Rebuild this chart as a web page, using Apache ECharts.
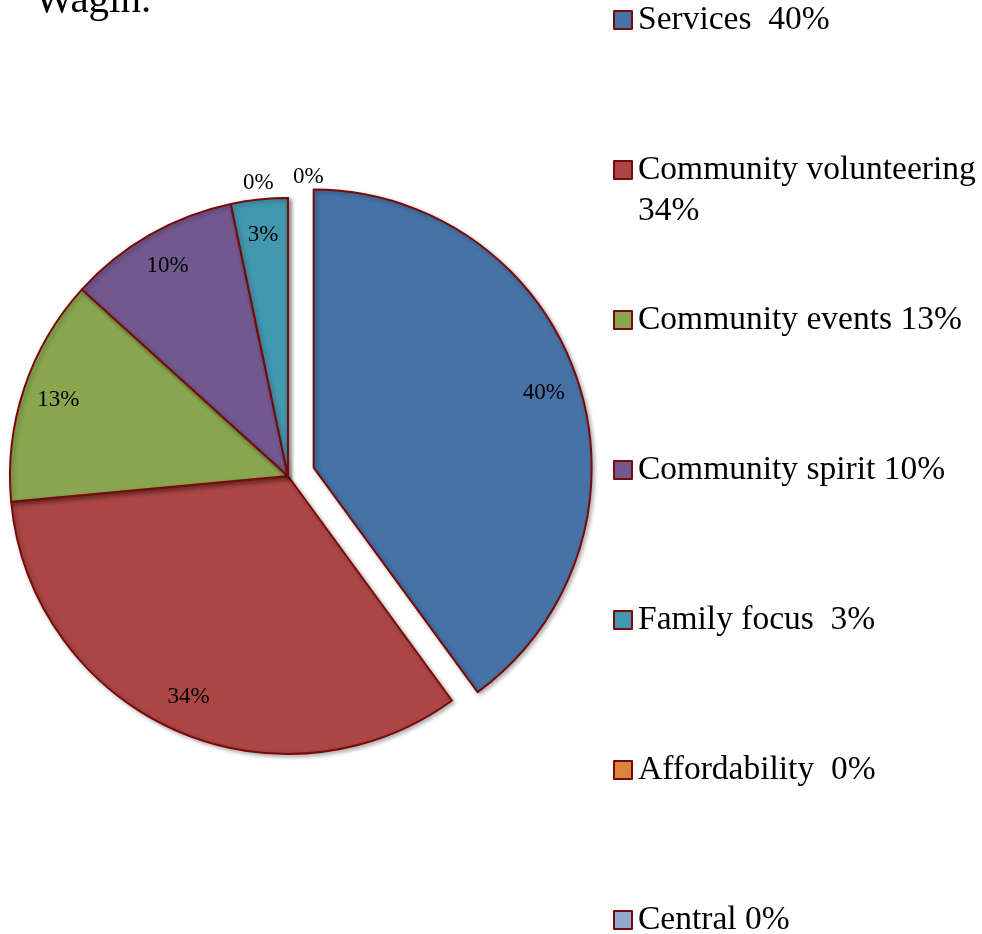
<!DOCTYPE html>
<html>
<head>
<meta charset="utf-8">
<script src="https://cdn.jsdelivr.net/npm/echarts@6/dist/echarts.min.js"></script>
<style>
  html, body { margin: 0; padding: 0; background: #fff; }
  #chart { width: 982px; height: 934px; }
</style>
</head>
<body>
<div id="chart"></div>
<script>
const categories = ['Services', 'Community volunteering', 'Community events', 'Community spirit', 'Family focus', 'Affordability', 'Central'];
const shares = [40, 33.6, 13.2, 10, 3.3, 0, 0];
const legendLabels = ['Services  40%', 'Community volunteering\n34%', 'Community events 13%', 'Community spirit 10%', 'Family focus  3%', 'Affordability  0%', 'Central 0%'];
const colorList = ['#4572A7', '#AA4643', '#89A54E', '#71588F', '#4198AF', '#DB843D', '#93A9CF'];

const chart = echarts.init(document.getElementById('chart'))
const serif = 'Liberation Serif'
const edge = '#7A0A0A'
const R = 278
const lineH = 41
const legendStep = 150
const firstMarkerY = 20

// offsets for the two 0% labels sitting at the top of the pie
const zeroOffsets = { 'Affordability': [-50, 3], 'Central': [0, -3] }

const mainData = categories.map(function (name, i) {
  const item = { name: name, value: shares[i], itemStyle: { color: colorList[i] } }
  if (i === 0) item.selected = true
  if (shares[i] === 0) {
    item.label = { show: true, offset: zeroOffsets[name] || [0, 0] }
  }
  return item
})

const ringData = categories.map(function (name, i) {
  const item = {
    name: name,
    value: shares[i],
    itemStyle: { color: 'rgba(0,0,0,0)', borderWidth: 0 },
    label: { show: shares[i] > 0 }
  }
  if (i === 0) item.selected = true
  return item
})

// one legend per entry so a wrapped entry does not push the others down
const legends = categories.map(function (name, i) {
  const txt = legendLabels[i]
  const wrapped = txt.indexOf('\n') >= 0
  const nLines = wrapped ? 3 : 1
  return {
    orient: 'vertical',
    left: 613,
    top: firstMarkerY + i * legendStep - nLines * lineH / 2,
    padding: 0,
    itemWidth: 18,
    itemHeight: 18,
    icon: 'rect',
    data: [name],
    selectedMode: false,
    formatter: function () {
      // blank first line keeps the marker level with the first text line
      return wrapped ? ' \n' + txt : txt
    },
    textStyle: { fontFamily: serif, fontSize: 33.5, lineHeight: lineH, color: '#000', padding: [0, 0, 0, 1] }
  }
})

const option = {
  animation: false,
  title: {
    text: 'Wagin.',
    left: 35,
    top: -19,
    padding: 0,
    textStyle: { fontFamily: serif, fontSize: 41, fontWeight: 'normal', color: '#000' }
  },
  legend: legends,
  series: [
    {
      name: 'main',
      type: 'pie',
      center: [288, 476],
      radius: [0, R],
      startAngle: 90,
      clockwise: true,
      selectedMode: 'single',
      selectedOffset: 27,
      avoidLabelOverlap: false,
      emphasis: { disabled: true },
      itemStyle: {
        borderColor: edge,
        borderWidth: 2,
        shadowBlur: 4,
        shadowOffsetX: 2,
        shadowOffsetY: 2,
        shadowColor: 'rgba(0,0,0,0.3)'
      },
      label: {
        show: false,
        position: 'outside',
        fontFamily: serif,
        fontSize: 23,
        color: '#000',
        formatter: function (p) { return Math.round(p.percent) + '%' }
      },
      labelLine: { show: false, length: 18, length2: 0 },
      data: mainData
    },
    {
      name: 'labels',
      type: 'pie',
      center: [288, 476],
      radius: [200, R],
      startAngle: 90,
      clockwise: true,
      silent: true,
      selectedMode: 'single',
      selectedOffset: 27,
      emphasis: { disabled: true },
      label: {
        position: 'inside',
        fontFamily: serif,
        fontSize: 23,
        color: '#000',
        formatter: function (p) { return Math.round(p.percent) + '%' }
      },
      labelLine: { show: false },
      data: ringData
    }
  ]
}
chart.setOption(option)
</script>
</body>
</html>
